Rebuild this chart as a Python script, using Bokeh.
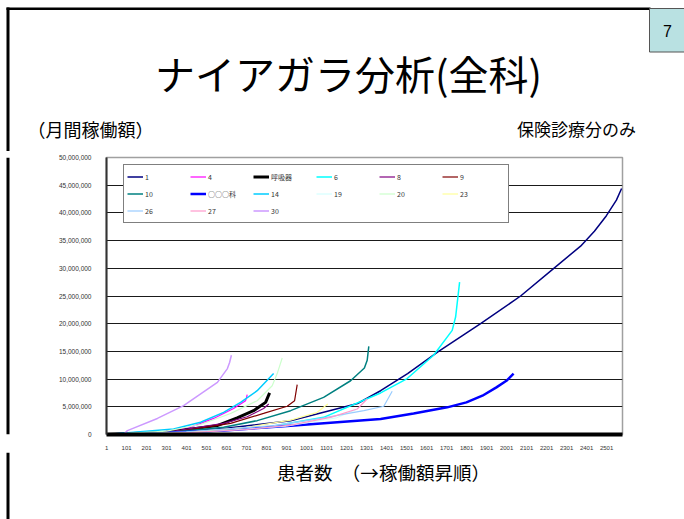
from bokeh.plotting import figure
from bokeh.layouts import column, row
from bokeh.models import Range1d, FixedTicker, NumeralTickFormatter, Legend, LegendItem
from bokeh.core.properties import value
from bokeh.embed import file_html
from bokeh.resources import INLINE

# ---------------- data (y in million yen) ----------------
M = 1_000_000
series_names = ["1", "4", "呼吸器", "6", "8", "9", "10", "○○○科", "14", "19", "20", "23", "26", "27", "30"]
series_colors = ["#000080", "#FF00FF", "#000000", "#00FFFF", "#800080", "#800000", "#008080",
                 "#0000FF", "#00CCFF", "#CCFFFF", "#CCFFCC", "#FFFF99", "#99CCFF", "#FF99CC", "#CC99FF"]
series_widths = [1.5, 1.2, 3, 1.5, 1.2, 1.2, 1.5, 2.5, 1.5, 1, 1.2, 1.2, 1.2, 1.2, 1.5]

x_1 = [1, 300, 586, 921, 1256, 1371, 1506, 1661, 1871, 2071, 2237, 2371, 2440, 2500, 2550, 2576]
y_1 = [0, 0.4, 1.1, 2.5, 5.6, 7.9, 11.0, 15.0, 20.0, 25.0, 30.0, 34.0, 36.7, 39.5, 42.3, 44.4]
x_4 = [1, 250, 421, 536, 636, 696, 700, 704]
y_4 = [0, 0.3, 1.3, 2.9, 4.7, 6.1, 6.6, 7.2]
x_resp = [1, 300, 554, 654, 736, 796, 816]
y_resp = [0, 0.4, 1.6, 3.0, 4.3, 5.8, 7.5]
x_6 = [1, 500, 800, 1086, 1371, 1504, 1636, 1729, 1746, 1766]
y_6 = [0, 0.5, 1.3, 3.1, 7.5, 10.1, 14.3, 18.8, 21.2, 27.5]
x_8 = [1, 300, 586, 704, 786, 812]
y_8 = [0, 0.4, 2.0, 3.2, 4.7, 5.5]
x_9 = [1, 350, 621, 786, 904, 941, 954]
y_9 = [0, 0.5, 2.0, 3.8, 5.1, 6.1, 9.0]
x_10 = [1, 300, 586, 754, 921, 1086, 1221, 1290, 1304, 1312]
y_10 = [0, 0.3, 1.3, 2.5, 4.3, 6.7, 9.7, 12.0, 13.4, 15.9]
x_dept = [1, 300, 586, 921, 1371, 1536, 1704, 1800, 1880, 1950, 2000, 2036]
y_dept = [0, 0.3, 0.7, 1.6, 2.8, 3.8, 4.9, 5.8, 7.0, 8.5, 9.7, 11.0]
x_14 = [1, 336, 471, 586, 671, 754, 836]
y_14 = [0, 1.0, 2.2, 4.0, 5.8, 7.9, 11.0]
x_19 = [1, 500, 900, 1150, 1250]
y_19 = [0, 0.5, 1.5, 3.0, 4.5]
x_20 = [1, 300, 471, 621, 754, 829, 854, 879]
y_20 = [0, 0.6, 1.8, 3.8, 6.1, 8.8, 11.0, 13.8]
x_23 = [1, 400, 700, 921, 1054, 1107]
y_23 = [0, 0.4, 1.3, 2.6, 4.0, 5.5]
x_26 = [1, 400, 837, 1087, 1287, 1387, 1429]
y_26 = [0, 0.5, 1.6, 3.0, 4.3, 5.1, 7.8]
x_27 = [1, 400, 700, 921, 1121, 1254, 1304]
y_27 = [0, 0.3, 0.9, 1.7, 3.1, 4.6, 6.4]
x_30 = [1, 86, 105, 255, 386, 555, 605, 616, 625]
y_30 = [0, 0, 0.7, 2.9, 5.2, 9.4, 11.9, 13.0, 14.3]

series_x = [x_1, x_4, x_resp, x_6, x_8, x_9, x_10, x_dept, x_14, x_19, x_20, x_23, x_26, x_27, x_30]
series_y = [y_1, y_4, y_resp, y_6, y_8, y_9, y_10, y_dept, y_14, y_19, y_20, y_23, y_26, y_27, y_30]

y_ticks = [0, 5 * M, 10 * M, 15 * M, 20 * M, 25 * M, 30 * M, 35 * M, 40 * M, 45 * M, 50 * M]
x_ticks = [1 + 100 * i for i in range(26)]

title_text = "ナイアガラ分析(全科)"
ylabel_text = "（月間稼働額）"
note_text = "保険診療分のみ"
xlabel_text = "患者数　（→稼働額昇順）"
page_no = "7"

JP = "Noto Sans CJK JP"
W, H = 684, 519
HEAD_H = 151          # header strip height
FOOT_TOP = 452        # footer starts here
STRIP_W = 10          # left page-border strip
FL, FR, FT, FB = 106, 622, 157, 434   # chart frame edges on the page
MID_H = FOOT_TOP - HEAD_H


def blank(width, height, y0, y1, x0=0, x1=None):
    f = figure(width=width, height=height, output_backend="svg", toolbar_location=None, title=None,
               x_range=Range1d(x0, x1 if x1 is not None else x0 + width), y_range=Range1d(y1, y0),
               x_axis_location=None, y_axis_location=None, min_border=0)
    f.grid.visible = False
    f.outline_line_color = None
    f.background_fill_color = "white"
    f.border_fill_color = "white"
    return f


# ---- header ----
head = blank(W, HEAD_H, 0, HEAD_H)
head.quad(left=[6], right=[9], top=[7], bottom=[HEAD_H], fill_color="black", line_color=None)
head.quad(left=[6], right=[650], top=[7], bottom=[9.5], fill_color="black", line_color=None)
head.quad(left=[649], right=[690], top=[8], bottom=[51.5], fill_color="#b9e1e2",
          line_color="#555555", line_width=1)
head.text(x=[667], y=[30], text=[page_no], text_font=value("Liberation Sans"),
          text_font_size=value("16px"), text_align="center", text_baseline="middle", text_color="black")
head.text(x=[348], y=[72], text=[title_text], text_font=value(JP),
          text_font_size=value("40px"), text_align="center", text_baseline="middle", text_color="black")
head.text(x=[90], y=[128], text=[ylabel_text], text_font=value(JP),
          text_font_size=value("18px"), text_align="center", text_baseline="middle", text_color="black")
head.text(x=[576], y=[128], text=[note_text], text_font=value(JP),
          text_font_size=value("17px"), text_align="center", text_baseline="middle", text_color="black")

# ---- left page-border strip next to the chart ----
strip = blank(STRIP_W, MID_H, HEAD_H, FOOT_TOP)
strip.quad(left=[6], right=[9], top=[HEAD_H], bottom=[FOOT_TOP], fill_color="black", line_color=None)

# ---- chart ----
CW = W - STRIP_W
p = figure(width=CW, height=MID_H, output_backend="svg", toolbar_location=None, title=None,
           x_range=Range1d(0.5, 2580.5), y_range=Range1d(0, 50 * M),
           min_border_left=FL - STRIP_W, min_border_right=W - FR,
           min_border_top=FT - HEAD_H, min_border_bottom=FOOT_TOP - FB)
p.background_fill_color = "white"
p.border_fill_color = "white"
p.outline_line_color = "#a0a0a0"
p.outline_line_width = 1.5

p.xgrid.visible = False
p.ygrid.ticker = FixedTicker(ticks=y_ticks)
p.ygrid.grid_line_color = "#1a1a1a"
p.ygrid.grid_line_width = 1

p.yaxis.ticker = FixedTicker(ticks=y_ticks)
p.yaxis.formatter = NumeralTickFormatter(format="0,0")
p.yaxis.axis_line_color = "#333333"
p.yaxis.axis_line_width = 2
p.yaxis.major_tick_line_color = None
p.yaxis.minor_tick_line_color = None
p.yaxis.major_label_standoff = 9
p.yaxis.major_label_text_font = "Liberation Sans"
p.yaxis.major_label_text_font_size = "6.5px"
p.yaxis.major_label_text_color = "#333333"

p.xaxis.ticker = FixedTicker(ticks=x_ticks)
p.xaxis.axis_line_color = "black"
p.xaxis.axis_line_width = 4
p.xaxis.major_tick_line_color = None
p.xaxis.minor_tick_line_color = None
p.xaxis.major_label_standoff = 5
p.xaxis.major_label_text_font = "Liberation Sans"
p.xaxis.major_label_text_font_size = "6px"
p.xaxis.major_label_text_color = "#333333"

items = []
for name, xs, ys, c, w in zip(series_names, series_x, series_y, series_colors, series_widths):
    r = p.line(xs, [v * M for v in ys], line_color=c, line_width=w)
    items.append(LegendItem(label=name, renderers=[r]))

legend = Legend(items=items, orientation="horizontal", ncols=6,
                location=(123 - FL, FB - 223),
                glyph_width=16, glyph_height=17, label_height=17, label_width=45,
                label_standoff=2, spacing=0, padding=3, margin=0,
                label_text_font=JP, label_text_font_size="7px",
                label_text_color="#333333",
                border_line_color="black", border_line_width=1,
                background_fill_color="white", background_fill_alpha=1)
p.add_layout(legend, "center")

# ---- footer ----
foot = blank(W, H - FOOT_TOP, FOOT_TOP, H)
foot.quad(left=[6], right=[9], top=[FOOT_TOP], bottom=[H], fill_color="black", line_color=None)
foot.text(x=[383], y=[471], text=[xlabel_text], text_font=value(JP),
          text_font_size=value("18.5px"), text_align="center", text_baseline="middle", text_color="black")

page = column(head, row(strip, p, spacing=0), foot, spacing=0)
open("out.html", "w").write(file_html(page, INLINE))
